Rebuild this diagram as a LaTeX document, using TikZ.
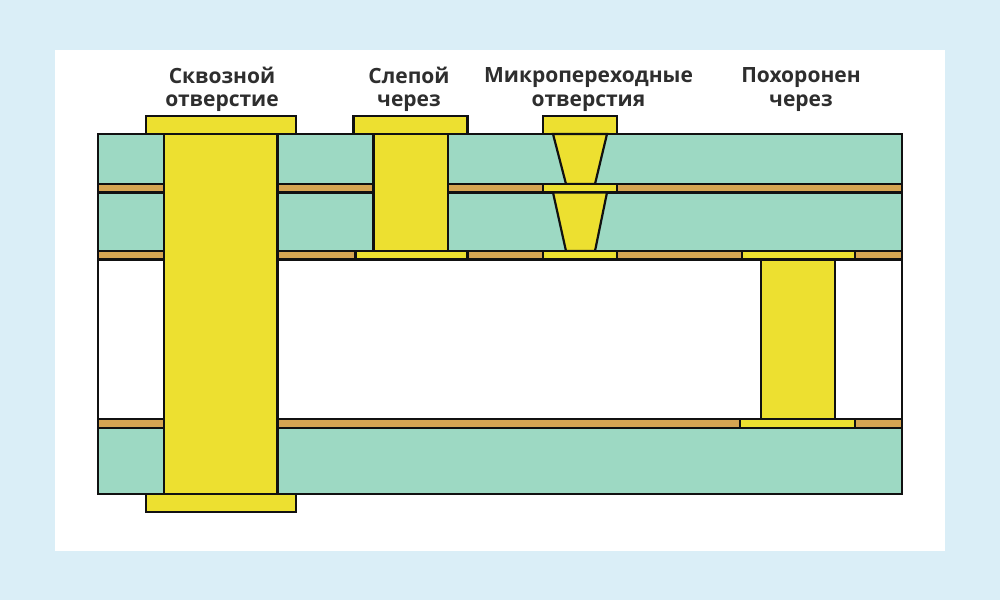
\documentclass[tikz,border=0pt]{standalone}
\usepackage{fontspec}
\setmainfont{Open Sans}
\definecolor{bgblue}{HTML}{DAEEF7}
\definecolor{teal}{HTML}{9DD9C3}
\definecolor{copper}{HTML}{D6A552}
\definecolor{viayellow}{HTML}{EDE030}
\definecolor{ink}{HTML}{111111}
\definecolor{labelink}{HTML}{2E2E2E}
\tikzset{
  outline/.style={draw=ink,line width=2.2pt,line join=miter},
  dielectric/.style={outline,fill=teal},
  copperlayer/.style={outline,fill=copper},
  metal/.style={outline,fill=viayellow},
  caption/.style={font=\fontsize{21}{23.5}\selectfont\bfseries,text=labelink,align=center,inner sep=0pt}
}
\begin{document}
\begin{tikzpicture}[x=1pt,y=-1pt]
\useasboundingbox (0,0) rectangle (1000,600);
\fill[bgblue] (0,0) rectangle (1000,600);
\fill[white] (55,50) rectangle (945,551);
% board layers
\draw[dielectric] (98,134) rectangle (902,184);
\draw[copperlayer] (98,184) rectangle (902,192.5);
\draw[dielectric] (98,192.5) rectangle (902,251);
\draw[copperlayer] (98,251) rectangle (902,259.5);
\draw[outline,fill=white] (98,259.5) rectangle (902,419);
\draw[copperlayer] (98,419) rectangle (902,428);
\draw[dielectric] (98,428) rectangle (902,494);
% through hole
\draw[metal] (146,116) rectangle (296,134);
\draw[metal] (146,494) rectangle (296,512);
\draw[metal] (164,134) rectangle (277.5,494);
% blind via
\draw[metal] (353.5,116) rectangle (467.5,134);
\draw[metal] (373.5,134) rectangle (448,251);
\draw[metal] (355.5,251) rectangle (467.5,259.5);
% microvias
\draw[metal] (543,116) rectangle (617,134);
\draw[metal] (553,134) -- (607,134) -- (595,184) -- (566,184) -- cycle;
\draw[metal] (543,184) rectangle (617,192.5);
\draw[metal] (553,192.5) -- (607,192.5) -- (595,251) -- (566,251) -- cycle;
\draw[metal] (543,251) rectangle (617,259.5);
% buried via
\draw[metal] (742,251) rectangle (855,259.5);
\draw[metal] (761,259.5) rectangle (835,419);
\draw[metal] (740,419) rectangle (855,428);
% labels
\node[caption] (through) at (222,89.5) {Сквозной\\отверстие};
\node[caption] (blind) at (409,89.5) {Слепой\\через};
\node[caption] (micro) at (588.5,89.5) {Микропереходные\\отверстия};
\node[caption] (buried) at (801,89.5) {Похоронен\\через};
\end{tikzpicture}
\end{document}
